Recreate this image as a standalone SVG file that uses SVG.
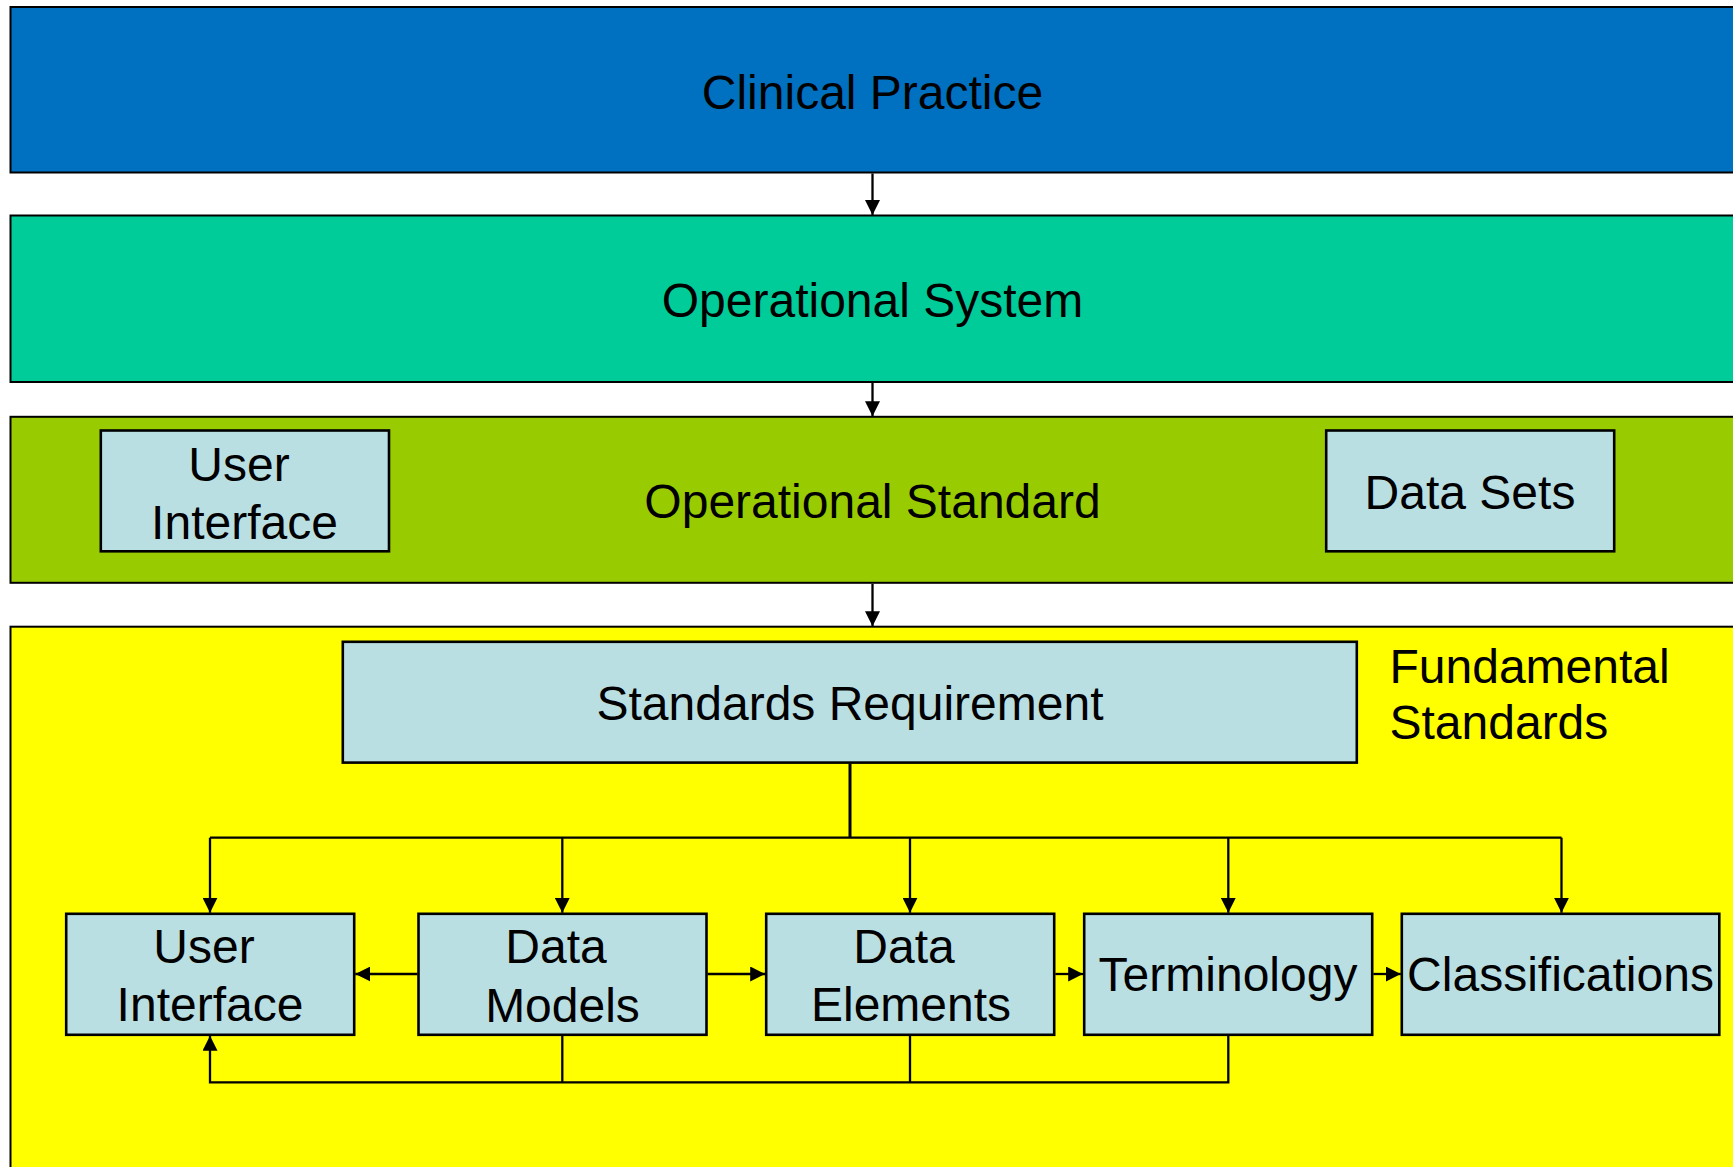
<svg xmlns="http://www.w3.org/2000/svg" width="1733" height="1167" viewBox="0 0 1733 1167">
  <style>
    .bar { stroke: #000; stroke-width: 2; }
    .box { fill: #B9DFE3; stroke: #000; stroke-width: 2.6; }
    .t { font-family: "Liberation Sans", Arial, sans-serif; font-size: 48px; fill: #000; }
    .c { text-anchor: middle; }
    .ln { fill: none; stroke: #000; stroke-width: 2.3; }
    .arr { marker-end: url(#ah); }
  </style>
  <defs>
    <marker id="ah" markerUnits="userSpaceOnUse" viewBox="0 0 15 15" markerWidth="15" markerHeight="15" refX="15" refY="7.5" orient="auto">
      <path d="M0,0 L15,7.5 L0,15 Z" fill="#000"/>
    </marker>
  </defs>
  <rect x="0" y="0" width="1733" height="1167" fill="#fff"/>

  <g id="clinical-practice">
    <rect class="bar" x="10.5" y="7" width="1740" height="165.5" fill="#0070C0"/>
    <text class="t c" x="872.5" y="108.5">Clinical Practice</text>
  </g>

  <g id="operational-system">
    <rect class="bar" x="10.5" y="215.5" width="1740" height="166.5" fill="#00CC99"/>
    <text class="t c" x="872.5" y="316.5">Operational System</text>
  </g>

  <g id="operational-standard">
    <rect class="bar" x="10.5" y="416.8" width="1740" height="166" fill="#99CC00"/>
    <text class="t c" x="872.5" y="518.3">Operational Standard</text>
  </g>

  <g id="os-user-interface">
    <rect class="box" x="100.8" y="430.5" width="288.2" height="120.8"/>
    <text class="t c" x="239" y="481">User</text>
    <text class="t c" x="244.5" y="538.5">Interface</text>
  </g>

  <g id="data-sets">
    <rect class="box" x="1326.2" y="430.5" width="288" height="120.8"/>
    <text class="t c" x="1470" y="508.5">Data Sets</text>
  </g>

  <g id="fundamental-standards">
    <rect class="bar" x="10.5" y="626.7" width="1740" height="560" fill="#FFFF00"/>
    <text class="t" x="1389.5" y="683">Fundamental</text>
    <text class="t" x="1389.5" y="739">Standards</text>
  </g>

  <g id="standards-requirement">
    <rect class="box" x="342.8" y="641.8" width="1014" height="120.8"/>
    <text class="t c" x="850" y="720">Standards Requirement</text>
  </g>

  <g id="user-interface">
    <rect class="box" x="66.2" y="913.8" width="288" height="121"/>
    <text class="t c" x="204" y="963.3">User</text>
    <text class="t c" x="210" y="1021">Interface</text>
  </g>

  <g id="data-models">
    <rect class="box" x="418.5" y="913.8" width="288" height="121"/>
    <text class="t c" x="556" y="963">Data</text>
    <text class="t c" x="562.5" y="1021.5">Models</text>
  </g>

  <g id="data-elements">
    <rect class="box" x="766.2" y="913.8" width="288" height="121"/>
    <text class="t c" x="904" y="963">Data</text>
    <text class="t c" x="911" y="1021">Elements</text>
  </g>

  <g id="terminology">
    <rect class="box" x="1084.2" y="913.8" width="288" height="121"/>
    <text class="t c" x="1228" y="991">Terminology</text>
  </g>

  <g id="classifications">
    <rect class="box" x="1401.8" y="913.8" width="317.5" height="121"/>
    <text class="t c" x="1560.5" y="991">Classifications</text>
  </g>

  <g id="connectors">
    <path class="ln arr" d="M872.5,173.5 V215"/>
    <path class="ln arr" d="M872.5,383 V416.3"/>
    <path class="ln arr" d="M872.5,583.8 V626.2"/>
    <path class="ln" style="stroke-width:3" d="M850,763.5 V837.7"/>
    <path class="ln" d="M210,837.7 H1561.5"/>
    <path class="ln arr" d="M210,837.7 V912.8"/>
    <path class="ln arr" d="M562.3,837.7 V912.8"/>
    <path class="ln arr" d="M910,837.7 V912.8"/>
    <path class="ln arr" d="M1228.3,837.7 V912.8"/>
    <path class="ln arr" d="M1561.5,837.7 V912.8"/>
    <path class="ln arr" d="M417.5,974 H355.3"/>
    <path class="ln arr" d="M707.5,974 H765.2"/>
    <path class="ln arr" d="M1055.3,974 H1083.2"/>
    <path class="ln arr" d="M1373.3,974 H1400.8"/>
    <path class="ln arr" d="M1228.3,1035.8 V1082.3 H210 V1035.8"/>
    <path class="ln" d="M562.3,1035.8 V1082.3"/>
    <path class="ln" d="M910,1035.8 V1082.3"/>
  </g>
</svg>
